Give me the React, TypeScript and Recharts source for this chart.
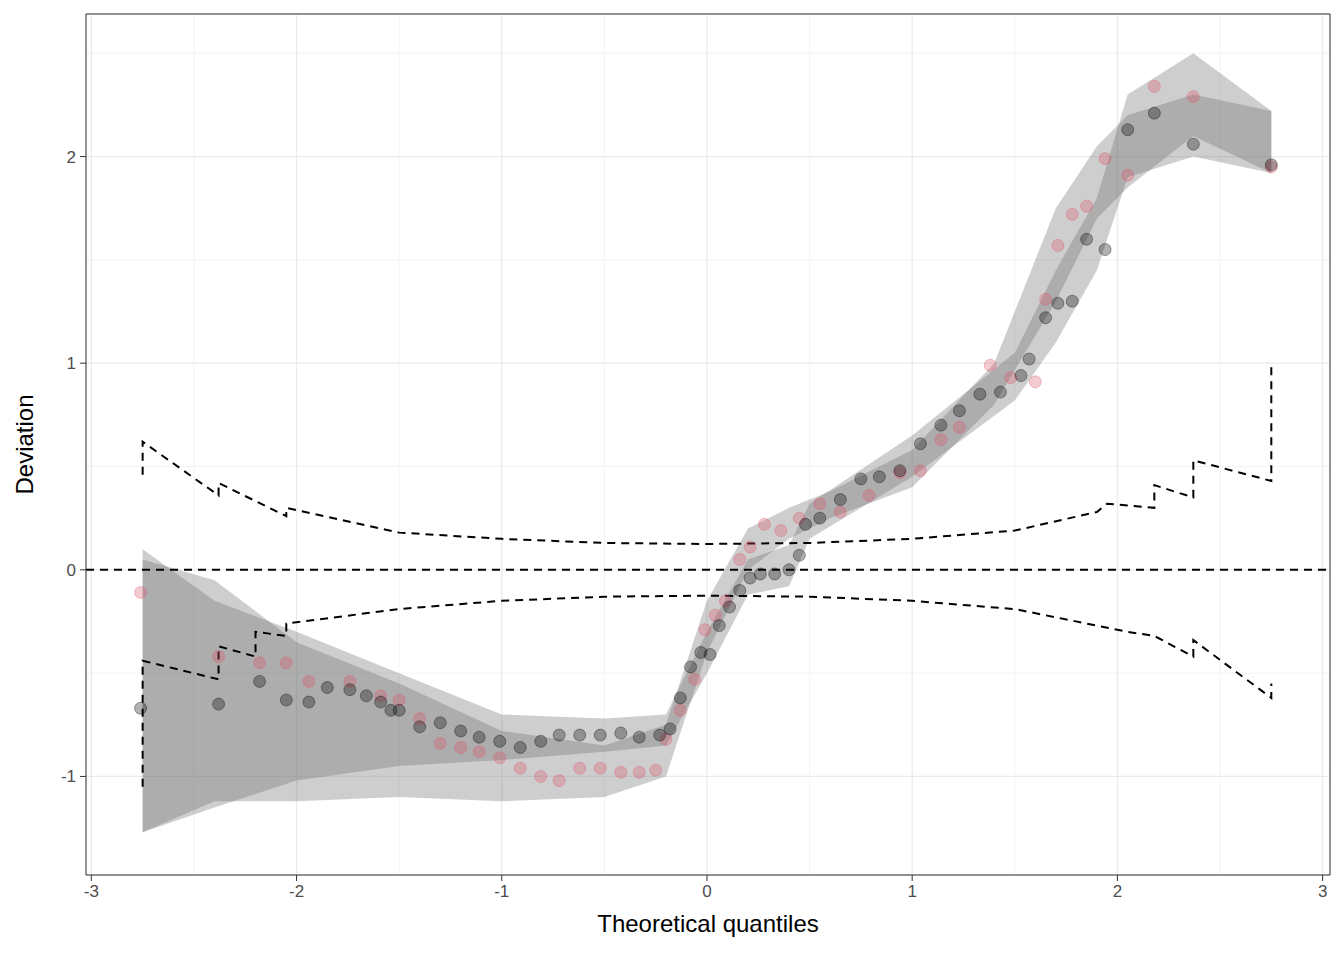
import { ComposedChart, Scatter, Line, Area, XAxis, YAxis, CartesianGrid, ReferenceLine, Label } from "recharts";

const blackX = [-2.76,-2.38,-2.18,-2.05,-1.94,-1.85,-1.74,-1.66,-1.59,-1.54,-1.5,-1.4,-1.3,-1.2,-1.11,-1.01,-0.91,-0.81,-0.72,-0.62,-0.52,-0.42,-0.33,-0.23,-0.18,-0.13,-0.08,-0.03,0.015,0.06,0.11,0.16,0.21,0.26,0.33,0.4,0.45,0.48,0.55,0.65,0.75,0.84,0.94,1.04,1.14,1.23,1.33,1.43,1.53,1.57,1.65,1.71,1.78,1.85,1.94,2.05,2.18,2.37,2.75];
const blackY = [-0.67,-0.65,-0.54,-0.63,-0.64,-0.57,-0.58,-0.61,-0.64,-0.68,-0.68,-0.76,-0.74,-0.78,-0.81,-0.83,-0.86,-0.83,-0.8,-0.8,-0.8,-0.79,-0.81,-0.8,-0.77,-0.62,-0.47,-0.4,-0.41,-0.27,-0.18,-0.1,-0.04,-0.02,-0.02,0,0.07,0.22,0.25,0.34,0.44,0.45,0.48,0.61,0.7,0.77,0.85,0.86,0.94,1.02,1.22,1.29,1.3,1.6,1.55,2.13,2.21,2.06,1.96];
const pinkX = [-2.76,-2.38,-2.18,-2.05,-1.94,-1.74,-1.59,-1.5,-1.4,-1.3,-1.2,-1.11,-1.01,-0.91,-0.81,-0.72,-0.62,-0.52,-0.42,-0.33,-0.25,-0.2,-0.13,-0.06,-0.01,0.04,0.09,0.16,0.21,0.28,0.36,0.45,0.55,0.65,0.79,0.94,1.04,1.14,1.23,1.38,1.48,1.6,1.65,1.71,1.78,1.85,1.94,2.05,2.18,2.37,2.75];
const pinkY = [-0.11,-0.42,-0.45,-0.45,-0.54,-0.54,-0.61,-0.63,-0.72,-0.84,-0.86,-0.88,-0.91,-0.96,-1,-1.02,-0.96,-0.96,-0.98,-0.98,-0.97,-0.82,-0.68,-0.53,-0.29,-0.22,-0.15,0.05,0.11,0.22,0.19,0.25,0.32,0.28,0.36,0.47,0.48,0.63,0.69,0.99,0.93,0.91,1.31,1.57,1.72,1.76,1.99,1.91,2.34,2.29,1.95];

const bandBlackX = [-2.75,-2.4,-2.0,-1.5,-1.0,-0.5,-0.2,0,0.2,0.4,0.5,1.0,1.5,1.7,1.9,2.05,2.37,2.75];
const bandBlackLo = [-1.27,-1.15,-1.02,-0.95,-0.92,-0.88,-0.85,-0.5,-0.12,-0.08,0.15,0.45,0.82,1.1,1.45,1.9,2.0,1.92];
const bandBlackHi = [0.1,-0.15,-0.3,-0.5,-0.7,-0.72,-0.7,-0.3,0.05,0.12,0.32,0.65,1.05,1.45,1.8,2.3,2.5,2.22];
const bandPinkX = [-2.75,-2.4,-2.0,-1.5,-1.0,-0.5,-0.2,0,0.2,0.4,0.6,1.0,1.4,1.7,1.9,2.05,2.37,2.75];
const bandPinkLo = [-1.27,-1.12,-1.12,-1.1,-1.12,-1.1,-1.0,-0.4,0,0.15,0.25,0.4,0.8,1.3,1.7,1.85,2.1,1.92];
const bandPinkHi = [0.05,-0.05,-0.35,-0.55,-0.78,-0.85,-0.75,-0.15,0.2,0.3,0.38,0.58,1.0,1.75,2.05,2.2,2.3,2.22];

const upperX = [-2.75,-2.75,-2.38,-2.38,-2.05,-2.05,-1.5,-1.0,-0.5,0,0.5,1.0,1.5,1.9,1.95,2.18,2.18,2.37,2.37,2.75,2.75];
const upperY = [0.46,0.62,0.36,0.42,0.26,0.3,0.18,0.15,0.13,0.125,0.13,0.15,0.19,0.28,0.32,0.3,0.41,0.35,0.53,0.43,1.0];
const lowerX = [-2.75,-2.75,-2.38,-2.38,-2.2,-2.2,-2.05,-2.05,-1.5,-1.0,-0.5,0,0.5,1.0,1.5,2.05,2.18,2.37,2.37,2.75,2.75];
const lowerY = [-1.05,-0.44,-0.53,-0.37,-0.42,-0.3,-0.32,-0.26,-0.19,-0.15,-0.13,-0.125,-0.13,-0.15,-0.19,-0.3,-0.32,-0.42,-0.34,-0.62,-0.55];

const xTicks = [-3, -2, -1, 0, 1, 2, 3];
const yTicks = [-1, 0, 1, 2];
const xMinor = [-2.5, -1.5, -0.5, 0.5, 1.5, 2.5];
const yMinor = [-0.5, 0.5, 1.5, 2.5];
const xDom = [-3.026, 3.036];
const yDom = [-1.477, 2.69];

const zip = (xs: number[], ys: number[]) => xs.map((x, i) => ({ x, y: ys[i] }));
const band = (xs: number[], lo: number[], hi: number[]) => xs.map((x, i) => ({ x, r: [lo[i], hi[i]] }));

function XTick(props: any) {
  const { x, y, payload } = props;
  return <text x={x} y={y + 14} textAnchor="middle" fontSize={17} fill="#4d4d4d" fontFamily="Liberation Sans">{payload.value}</text>;
}
function YTick(props: any) {
  const { x, y, payload } = props;
  return <text x={x - 2} y={y + 6} textAnchor="end" fontSize={17} fill="#4d4d4d" fontFamily="Liberation Sans">{payload.value}</text>;
}

function Dot(props: any) {
  const { cx, cy, fill } = props;
  return <circle cx={cx} cy={cy} r={6} fill={fill} fillOpacity={0.3} stroke={fill} strokeOpacity={0.35} />;
}

// minor grid positions, mapped linearly through the plot offset
const minorX = (p: any) => {
  const o = p?.offset;
  if (!o) return [];
  return xMinor.map((v) => o.left + ((v - xDom[0]) / (xDom[1] - xDom[0])) * o.width);
};
const minorY = (p: any) => {
  const o = p?.offset;
  if (!o) return [];
  return yMinor.map((v) => o.top + ((yDom[1] - v) / (yDom[1] - yDom[0])) * o.height);
};

export default function App() {
  return (
    <div style={{ margin: -8, fontFamily: "Liberation Sans" }}>
      <ComposedChart width={1344} height={960} margin={{ top: 14, right: 14, left: 30, bottom: 30 }}>
        <CartesianGrid stroke="#f3f3f3" verticalCoordinatesGenerator={minorX} horizontalCoordinatesGenerator={minorY} />
        <CartesianGrid stroke="#ebebeb" strokeWidth={1.3} />
        <XAxis type="number" dataKey="x" domain={xDom} ticks={xTicks} allowDataOverflow tick={<XTick />} tickLine={{ stroke: "#333" }} axisLine={false} height={55}>
          <Label value="Theoretical quantiles" position="insideBottom" offset={-2} style={{ fontSize: 24, fill: "#000" }} />
        </XAxis>
        <YAxis type="number" domain={yDom} ticks={yTicks} allowDataOverflow tick={<YTick />} tickLine={{ stroke: "#333" }} axisLine={false} width={56}>
          <Label value="Deviation" angle={-90} position="insideLeft" offset={-6} style={{ fontSize: 24, fill: "#000", textAnchor: "middle" }} />
        </YAxis>
        <Area data={band(bandBlackX, bandBlackLo, bandBlackHi)} dataKey="r" stroke="none" fill="#6a6a6a" fillOpacity={0.33} isAnimationActive={false} />
        <Area data={band(bandPinkX, bandPinkLo, bandPinkHi)} dataKey="r" stroke="none" fill="#6a6a6a" fillOpacity={0.33} isAnimationActive={false} />
        <ReferenceLine y={0} stroke="#000" strokeWidth={2} strokeDasharray="8 6" />
        <Line data={zip(upperX, upperY)} dataKey="y" stroke="#000" strokeWidth={2} strokeDasharray="8 6" dot={false} isAnimationActive={false} />
        <Line data={zip(lowerX, lowerY)} dataKey="y" stroke="#000" strokeWidth={2} strokeDasharray="8 6" dot={false} isAnimationActive={false} />
        <Scatter data={zip(pinkX, pinkY)} dataKey="y" fill="#DF536B" shape={<Dot />} isAnimationActive={false} />
        <Scatter data={zip(blackX, blackY)} dataKey="y" fill="#000" shape={<Dot />} isAnimationActive={false} />
        <ReferenceLine x={xDom[0]} stroke="#333" />
        <ReferenceLine x={xDom[1]} stroke="#333" />
        <ReferenceLine y={yDom[1]} stroke="#333" />
        <ReferenceLine y={yDom[0]} stroke="#333" />
      </ComposedChart>
    </div>
  );
}
